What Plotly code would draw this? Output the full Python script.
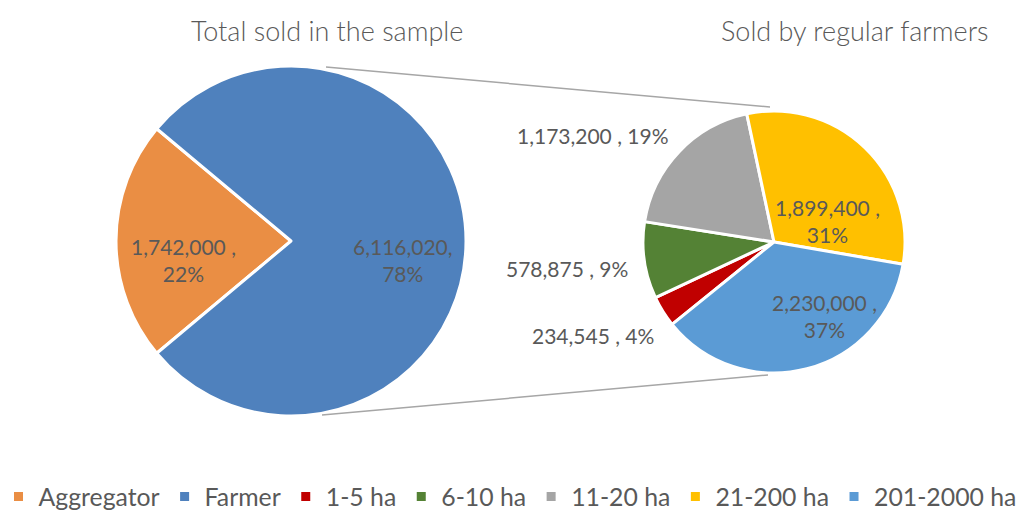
import plotly.graph_objects as go

# ---- data ----
left_labels = ["Aggregator", "Farmer"]
left_values = [1742000, 6116020]
left_pct = ["22%", "78%"]
left_colors = ["#EA8E44", "#4F81BD"]

right_labels = ["1-5 ha", "6-10 ha", "11-20 ha", "21-200 ha", "201-2000 ha"]
right_values = [234545, 578875, 1173200, 1899400, 2230000]
right_pct = ["4%", "9%", "19%", "31%", "37%"]
right_colors = ["#C00000", "#548235", "#A5A5A5", "#FFC000", "#5B9BD5"]

titles = ["Total sold in the sample", "Sold by regular farmers"]

W, H = 1020, 511
FONT = "Lato"
TXT = "#595959"

def px(x, y):
    return x / W, 1 - y / H

fig = go.Figure()

fig.add_trace(go.Pie(
    labels=left_labels, values=left_values, sort=False, direction="clockwise",
    rotation=270 - 180 * left_values[0] / sum(left_values),
    marker=dict(colors=left_colors, line=dict(color="white", width=3)),
    textinfo="none", hoverinfo="label+value+percent",
    domain=dict(x=[116 / W, 466 / W], y=[1 - 416 / H, 1 - 66 / H]),
))

# 11-20 ha / 21-200 ha boundary sits 12 deg left of 12 o'clock
fig.add_trace(go.Pie(
    labels=right_labels, values=right_values, sort=False, direction="clockwise",
    rotation=-12 - 360 * sum(right_values[:3]) / sum(right_values),
    marker=dict(colors=right_colors, line=dict(color="white", width=3)),
    textinfo="none", hoverinfo="label+value+percent",
    domain=dict(x=[643 / W, 905 / W], y=[1 - 373 / H, 1 - 111 / H]),
))

def fmt(v):
    return f"{v:,}"

ann = []
for t, (cx, cy) in zip(titles, [(327, 30), (855, 30)]):
    x, y = px(cx, cy)
    ann.append(dict(text=t, x=x, y=y, xref="paper", yref="paper", showarrow=False,
                    font=dict(family=FONT, size=27, color=TXT, weight=300),
                    xanchor="center", yanchor="middle"))

left_txt = [f"{fmt(left_values[0])} ,<br>{left_pct[0]}", f"{fmt(left_values[1])},<br>{left_pct[1]}"]
for t, (cx, cy) in zip(left_txt, [(183, 260), (403, 260)]):
    x, y = px(cx, cy)
    ann.append(dict(text=t, x=x, y=y, xref="paper", yref="paper", showarrow=False,
                    font=dict(family=FONT, size=21, color=TXT), xanchor="center", yanchor="middle"))

right_txt = [f"{fmt(v)} , {p}" for v, p in zip(right_values[:3], right_pct[:3])] + \
            [f"{fmt(v)} ,<br>{p}" for v, p in zip(right_values[3:], right_pct[3:])]
right_pos = [(593, 335), (567, 268), (593, 135), (827, 221), (824, 316)]
for t, (cx, cy) in zip(right_txt, right_pos):
    x, y = px(cx, cy)
    ann.append(dict(text=t, x=x, y=y, xref="paper", yref="paper", showarrow=False,
                    font=dict(family=FONT, size=21, color=TXT), xanchor="center", yanchor="middle"))

shapes = []
for (x0, y0), (x1, y1) in [((326, 67), (770, 107)), ((322, 415), (768, 375))]:
    a0, b0 = px(x0, y0)
    a1, b1 = px(x1, y1)
    shapes.append(dict(type="line", xref="paper", yref="paper", x0=a0, y0=b0, x1=a1, y1=b1,
                       line=dict(color="#A6A6A6", width=1.5)))

fig.update_layout(
    width=W, height=H, margin=dict(l=0, r=0, t=0, b=0, autoexpand=False),
    paper_bgcolor="white", plot_bgcolor="white",
    annotations=ann, shapes=shapes,
    showlegend=True,
    legend=dict(orientation="h", x=0.5, xanchor="center", y=1 - 497 / H, yanchor="middle",
                font=dict(family=FONT, size=24.8, color=TXT), traceorder="normal",
                itemwidth=30),
)

fig.write_html("out.html", config={"displayModeBar": False},
               post_script="document.body.style.margin='0';")
